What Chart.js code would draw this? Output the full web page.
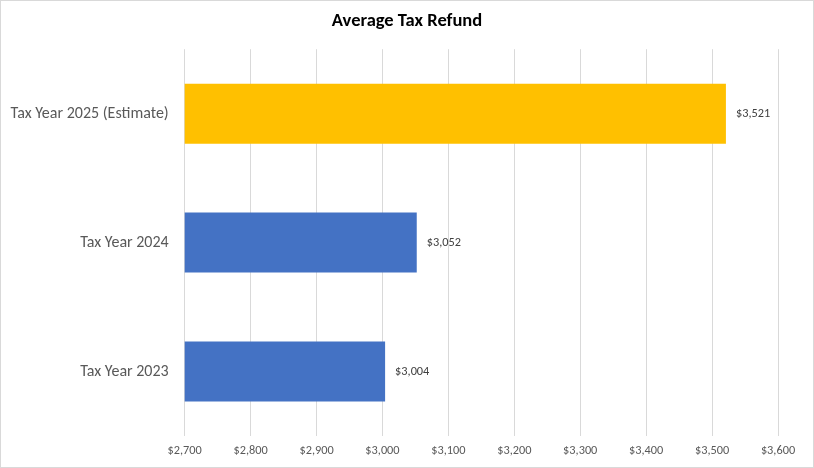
<!DOCTYPE html>
<html><head><meta charset="utf-8">
<script src="https://cdn.jsdelivr.net/npm/chart.js@4.4.1/dist/chart.umd.min.js"></script>
<style>html,body{margin:0;padding:0;background:#fff}#wrap{width:814px;height:468px;position:relative}</style>
</head><body><div id="wrap"><canvas id="c" width="814" height="468"></canvas></div>
<script>
const categories = ["Tax Year 2025 (Estimate)", "Tax Year 2024", "Tax Year 2023"];
const refunds = [3521, 3052, 3004];
const barColors = ["#FFC000", "#4472C4", "#4472C4"];
const xMin = 2700, xMax = 3600, xStep = 100;
const chartTitle = "Average Tax Refund";
const FONT = "Carlito, 'Liberation Sans Narrow', 'Open Sans', sans-serif";
const fmt = v => "$" + v.toLocaleString("en-US");

const borderPlugin = {
  id: "border",
  afterDraw(chart) {
    const ctx = chart.ctx;
    ctx.save();
    ctx.strokeStyle = "#d9d9d9";
    ctx.lineWidth = 1;
    ctx.strokeRect(0.5, 0.5, chart.width - 1, chart.height - 1);
    ctx.font = "bold 18.5px " + FONT;
    ctx.fillStyle = "#000";
    ctx.textAlign = "center";
    ctx.textBaseline = "middle";
    ctx.fillText(chartTitle, chart.width / 2, 21);
    ctx.restore();
  }
};
const labelPlugin = {
  id: "vals",
  afterDatasetsDraw(chart) {
    const ctx = chart.ctx;
    const meta = chart.getDatasetMeta(0);
    ctx.save();
    ctx.font = "12.3px " + FONT;
    ctx.fillStyle = "#404040";
    ctx.textAlign = "left";
    ctx.textBaseline = "middle";
    meta.data.forEach((bar, i) => {
      ctx.fillText(fmt(refunds[i]), bar.x + 10, bar.y);
    });
    ctx.restore();
  }
};

new Chart(document.getElementById("c"), {
  type: "bar",
  data: {
    labels: categories,
    datasets: [{ data: refunds, backgroundColor: barColors, borderWidth: 0,
      categoryPercentage: 1, barPercentage: 0.465 }]
  },
  options: {
    indexAxis: "y",
    responsive: false,
    animation: false,
    devicePixelRatio: 1,
    layout: { padding: { left: 0, right: 36, top: 49.2, bottom: 0 } },
    plugins: {
      legend: { display: false },
      tooltip: { enabled: false },
      title: { display: false }
    },
    scales: {
      x: {
        min: xMin, max: xMax,
        ticks: { stepSize: xStep, callback: v => fmt(v), color: "#595959",
          font: { family: FONT, size: 12.3 }, padding: 8, maxRotation: 0 },
        grid: { color: "#d9d9d9", drawTicks: false },
        border: { display: false },
        afterFit(s) { s.height = 32; }
      },
      y: {
        ticks: { color: "#595959", font: { family: FONT, size: 16 }, padding: 16 },
        grid: { display: false, drawTicks: false },
        border: { display: false },
        afterFit(s) { s.width = 184.7; }
      }
    }
  },
  plugins: [borderPlugin, labelPlugin]
});
</script></body></html>
